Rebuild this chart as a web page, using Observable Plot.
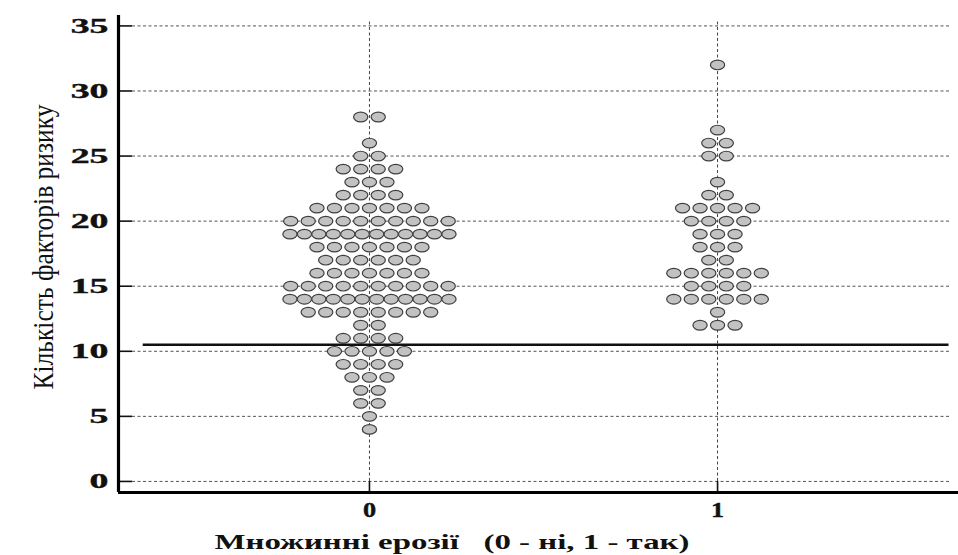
<!DOCTYPE html>
<html>
<head>
<meta charset="utf-8">
<script src="https://cdn.jsdelivr.net/npm/d3@7"></script>
<script src="https://cdn.jsdelivr.net/npm/@observablehq/plot@0.6"></script>
<style>
  html, body { margin: 0; padding: 0; background: #fff; }
  #chart svg { display: block; }
</style>
</head>
<body>
<div id="chart"></div>
<script>
// ---- data ----
const categories = [0, 1];
const yTicks = [0, 5, 10, 15, 20, 25, 30, 35];
// group 0: value of the risk-factor count and number of patients with that value
const values0 = [28, 26, 25, 24, 23, 22, 21, 20, 19, 18, 17, 16, 15, 14, 13, 12, 11, 10, 9, 8, 7, 6, 5, 4];
const counts0 = [2, 1, 2, 4, 3, 4, 7, 10, 12, 7, 6, 7, 10, 12, 8, 2, 4, 5, 4, 3, 2, 2, 1, 1];
// group 1
const values1 = [32, 27, 26, 25, 23, 22, 21, 20, 19, 18, 17, 16, 15, 14, 13, 12];
const counts1 = [1, 1, 2, 2, 1, 2, 5, 4, 3, 3, 2, 6, 4, 6, 1, 3];
const cutoff = 10.5;
const xTitle = "Множинні ерозії   (0 - ні, 1 - так)";
const yTitle = "Кількість факторів ризику";

// ---- layout ----
const W = 958, H = 555;
const mL = 118, mR = 6, mT = 15, mB = 63;
const xDomain = [-0.721, 1.675];
const yDomain = [-0.85, 35.8];
const pxPerX = (W - mL - mR) / (xDomain[1] - xDomain[0]);
const dotStep = 17.5, maxSpan = 159;

function expand(cat, values, counts) {
  const out = [];
  values.forEach((v, k) => {
    const n = counts[k];
    const step = n > 1 ? Math.min(dotStep, maxSpan / (n - 1)) : 0;
    for (let i = 0; i < n; i++) {
      out.push({group: cat, value: v, x: cat + ((i - (n - 1) / 2) * step) / pxPerX});
    }
  });
  return out;
}
const points = [...expand(0, values0, counts0), ...expand(1, values1, counts1)];

const ellipse = {
  draw(ctx, size) {
    const r = Math.sqrt(size / Math.PI);
    const rx = r * 1.45, ry = r * 0.98, k = 0.5523;
    ctx.moveTo(rx, 0);
    ctx.bezierCurveTo(rx, ry * k, rx * k, ry, 0, ry);
    ctx.bezierCurveTo(-rx * k, ry, -rx, ry * k, -rx, 0);
    ctx.bezierCurveTo(-rx, -ry * k, -rx * k, -ry, 0, -ry);
    ctx.bezierCurveTo(rx * k, -ry, rx, -ry * k, rx, 0);
    ctx.closePath();
  }
};

const tickLen = 14 / pxPerX;

const plot = Plot.plot({
  width: W, height: H,
  marginLeft: mL, marginRight: mR, marginTop: mT, marginBottom: mB,
  style: {fontFamily: "'Liberation Serif', 'DejaVu Serif', serif", fontWeight: "bold", fontSize: "20px", color: "#111", background: "#fff"},
  x: {domain: xDomain},
  y: {domain: yDomain},
  marks: [
    // horizontal dashed grid
    Plot.ruleY(yTicks, {x1: xDomain[0] + tickLen, x2: xDomain[1] - 0.005, stroke: "#555", strokeWidth: 1, strokeDasharray: "3,2.5"}),
    // vertical dashed grid
    Plot.ruleX(categories, {y1: yDomain[0], y2: 35.4, stroke: "#444", strokeWidth: 1, strokeDasharray: "3,2.5"}),
    // y tick marks (inward)
    Plot.ruleY(yTicks, {x1: xDomain[0], x2: xDomain[0] + tickLen, stroke: "#111", strokeWidth: 1.6}),
    // x tick marks (inward)
    Plot.ruleX(categories, {y1: yDomain[0], y2: 0, stroke: "#111", strokeWidth: 1.6}),
    // dots
    Plot.dot(points, {x: "x", y: "value", r: 4.9, symbol: ellipse, fill: "#c2c2c2", stroke: "#3f3f3f", strokeWidth: 1.2}),
    // cutoff line
    Plot.ruleY([cutoff], {x1: -0.65, x2: 1.665, stroke: "#111", strokeWidth: 2.4}),
    // axis lines
    Plot.ruleX([xDomain[0]], {stroke: "#000", strokeWidth: 3.2}),
    Plot.ruleY([yDomain[0]], {x1: xDomain[0], x2: xDomain[1] + 6 / pxPerX, stroke: "#000", strokeWidth: 3.2}),
    Plot.axisY(yTicks, {tickSize: 0, tickPadding: 10, fontSize: 21, fontWeight: "bold", label: null}),
    Plot.axisX(categories, {tickSize: 0, tickPadding: 10, fontSize: 21, fontWeight: "bold", label: null, tickFormat: d => String(d)})
  ]
});

const svg = d3.select(plot);
svg.attr("overflow", "visible");
// stretch tick labels horizontally like the reference
function stretch(sel, sx, sy) {
  sel.each(function () {
    const t = d3.select(this);
    let tr = t.attr("transform");
    if (!tr) {
      const x = +t.attr("x") || 0, y = +t.attr("y") || 0;
      t.attr("x", null).attr("y", null);
      tr = `translate(${x},${y})`;
    }
    t.attr("transform", `${tr} scale(${sx},${sy})`);
  });
}
stretch(svg.selectAll('g[aria-label="y-axis tick label"] text'), 1.8, 1);
stretch(svg.selectAll('g[aria-label="x-axis tick label"] text'), 1.25, 1);
svg.selectAll('g[aria-label="y-axis tick label"] text, g[aria-label="x-axis tick label"] text')
  .style("font-size", "21px").attr("stroke", "#111").attr("stroke-width", 0.4);

// axis titles
svg.append("text")
  .attr("transform", "translate(452,544)")
  .attr("text-anchor", "middle")
  .attr("dominant-baseline", "middle")
  .attr("textLength", 475)
  .attr("lengthAdjust", "spacingAndGlyphs")
  .style("font-family", "'Liberation Serif', serif")
  .style("font-weight", "bold")
  .style("font-size", "22px")
  .attr("fill", "#111")
  .text(xTitle);

svg.append("text")
  .attr("transform", "translate(46,247) rotate(-90) scale(1,1.55)")
  .attr("text-anchor", "middle")
  .attr("dominant-baseline", "middle")
  .attr("textLength", 285)
  .attr("lengthAdjust", "spacingAndGlyphs")
  .style("font-family", "'Liberation Serif', serif")
  .style("font-weight", "normal")
  .style("font-size", "19px")
  .attr("fill", "#111")
  .text(yTitle);

document.getElementById("chart").appendChild(plot);
</script>
</body>
</html>
